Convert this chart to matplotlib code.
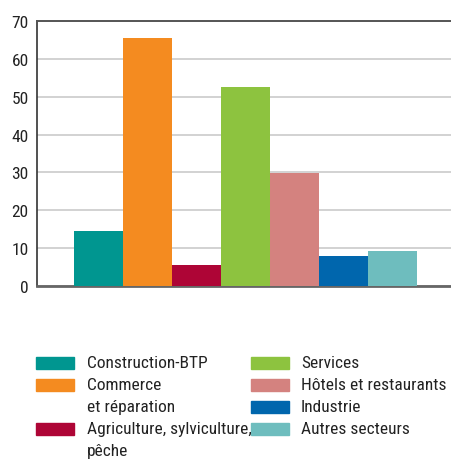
import matplotlib.pyplot as plt
from matplotlib.patches import Rectangle
from matplotlib import font_manager

# secteurs d'activité et valeurs
labels = ['Construction-BTP', 'Commerce\net réparation', 'Agriculture, sylviculture,\npêche',
          'Services', 'Hôtels et restaurants', 'Industrie', 'Autres secteurs']
values = [14.6, 65.5, 5.5, 52.6, 29.9, 7.9, 9.2]
colors = ['#009690', '#F48B20', '#AE0536', '#8DC33F', '#D4827F', '#0066AD', '#6EBDBE']
yticks = [0, 10, 20, 30, 40, 50, 60, 70]

names = {f.name for f in font_manager.fontManager.ttflist}
if 'Roboto Condensed' in names:
    plt.rcParams['font.family'] = ['Roboto Condensed', 'DejaVu Sans']
    fs = 12.5
else:
    plt.rcParams['font.family'] = ['Liberation Sans', 'DejaVu Sans']
    fs = 11

W, H = 451, 460
fig = plt.figure(figsize=(W / 100, H / 100), dpi=100)
ax = fig.add_axes([37 / W, 1 - 287 / H, (W - 37) / W, (287 - 22) / H])

x = range(len(values))
ax.bar(x, values, width=1.0, color=colors, zorder=3)
ax.set_xlim(-1.255, 7.19)
ax.set_ylim(0, 70)
ax.set_yticks(yticks)
ax.set_xticks([])
ax.tick_params(axis='y', length=0, pad=6, labelsize=fs, colors='#222222')
ax.yaxis.grid(True, color='#d2d2d2', linewidth=1.4, zorder=0)
ax.spines['right'].set_visible(False)
ax.spines['left'].set_color('#333333')
ax.spines['left'].set_linewidth(1.2)
ax.spines['top'].set_color('#555555')
ax.spines['top'].set_linewidth(1.4)
ax.spines['bottom'].set_color('#666666')
ax.spines['bottom'].set_linewidth(2.0)

# légende dessinée à la main, deux colonnes
line_h = 22
cols = [(36, 87, labels[:3], colors[:3]), (251, 301, labels[3:], colors[3:])]
for px, tx, labs, cols_ in cols:
    y = 364
    for lab, c in zip(labs, cols_):
        fig.patches.append(Rectangle((px / W, 1 - (y + 6) / H), 38 / W, 12 / H,
                                     transform=fig.transFigure, color=c))
        for i, ln in enumerate(lab.split('\n')):
            fig.text(tx / W, 1 - (y + i * line_h) / H, ln, fontsize=fs,
                     va='center', ha='left', color='#222222')
        y += line_h * len(lab.split('\n'))

fig.savefig('out.png', dpi=100)
